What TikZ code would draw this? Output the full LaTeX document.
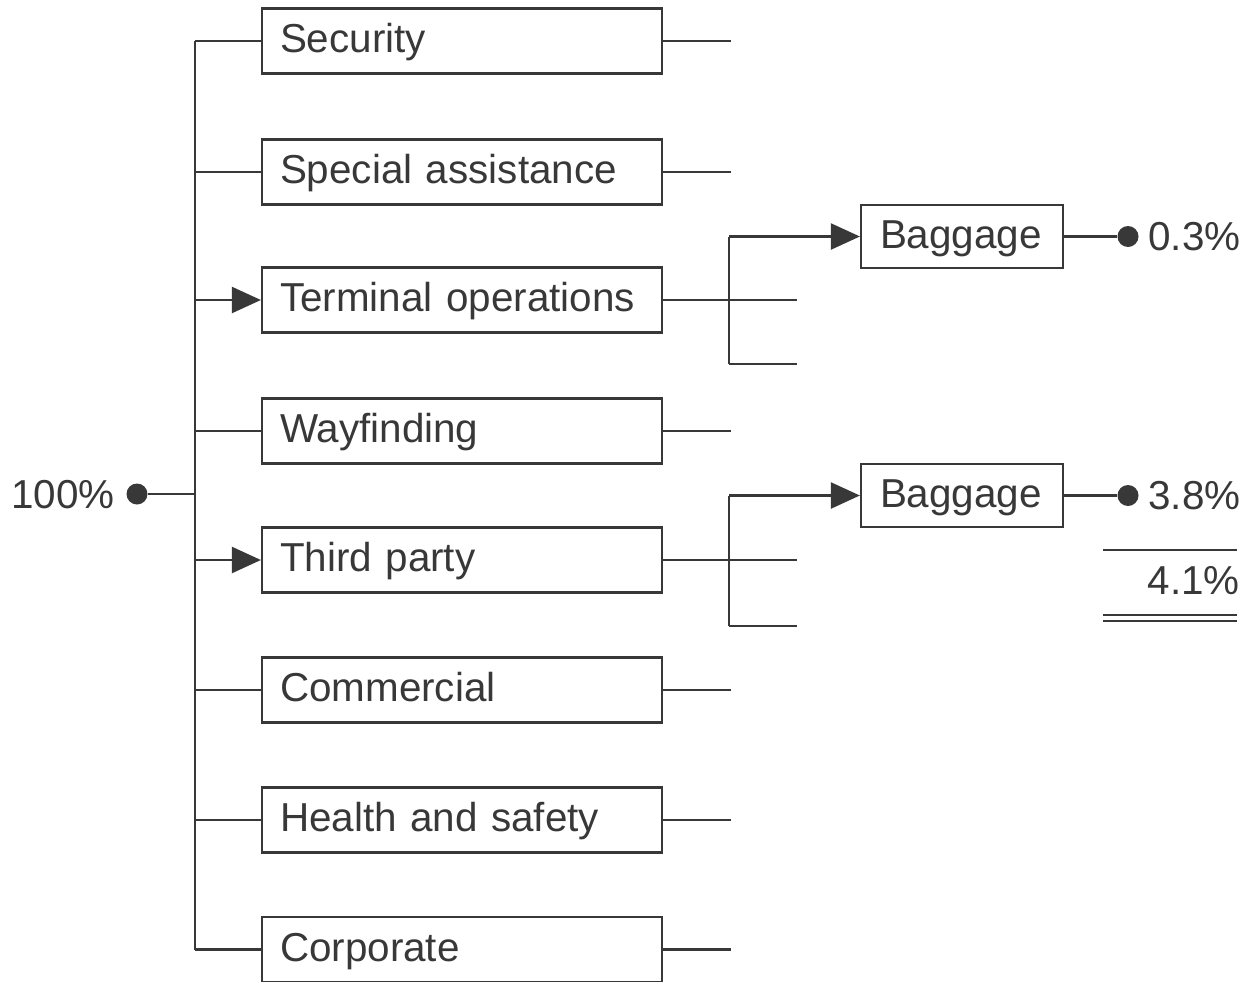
\documentclass[tikz,border=0pt]{standalone}
\usepackage{fontspec}
\setmainfont{Liberation Sans}
\usetikzlibrary{arrows.meta}
\definecolor{ink}{HTML}{383838}
\begin{document}
\begin{tikzpicture}[x=0.02cm,y=-0.02cm,
  every node/.style={text=ink,font=\fontsize{23}{28}\selectfont},
  line/.style={draw=ink,line width=1.3pt},
  catbox/.style={draw=ink,line width=1.3pt,minimum width=8cm,minimum height=1.3cm,
    inner xsep=0.36cm,inner ysep=0pt,text width=7.28cm,align=left,
    text height=0.58cm,text depth=0.12cm},
  bagbox/.style={draw=ink,line width=1.3pt,minimum width=4.04cm,minimum height=1.26cm,
    inner xsep=0.38cm,inner ysep=0pt,text width=3.28cm,align=left,
    text height=0.58cm,text depth=0.12cm},
  dotnode/.style={circle,fill=ink,inner sep=0pt,minimum size=0.42cm},
  arr/.style={-{Triangle[length=0.58cm,width=0.52cm]}}
]
\useasboundingbox (0,0) rectangle (1248,981);
\clip (0,0) rectangle (1248,981);

% category boxes
\node[catbox] (sec) at (462,41) {Security};
\node[catbox] (spa) at (462,172) {Special assistance};
\node[catbox] (ter) at (462,300) {Terminal operations};
\node[catbox] (way) at (462,431) {Wayfinding};
\node[catbox] (thi) at (462,560) {Third party};
\node[catbox] (com) at (462,690) {Commercial};
\node[catbox] (hea) at (462,820) {Health and safety};
\node[catbox] (cor) at (462,949.5) {Corporate};

% root
\node[anchor=base east,inner sep=0pt] (pct) at (115,508) {100\%};
\node[dotnode] (rootdot) at (137,494) {};
\coordinate (spine) at (195,494);
\coordinate (spinetop) at (195,41);
\coordinate (spinebot) at (195,949.5);
\draw[line] (rootdot) -- (spine);
\draw[line] (spinetop) -- (spinebot);

% branches to boxes
\foreach \n in {sec,spa,way,com,hea,cor}{
  \draw[line] (\n.west -| spine) -- (\n.west);
  \draw[line] (\n.east) -- ++(68,0);
}
\draw[line,arr] (ter.west -| spine) -- (ter.west);
\draw[line,arr] (thi.west -| spine) -- (thi.west);

% baggage boxes
\node[bagbox] (bag1) at (962,236.5) {Baggage};
\node[bagbox] (bag2) at (962,495.5) {Baggage};

% sub-branches for terminal operations
\coordinate (t1) at (729,236.5);
\coordinate (t3) at (729,364);
\coordinate (tend) at (797,300);
\coordinate (t3end) at (797,364);
\draw[line] (ter.east) -- (tend);
\draw[line] (t1) -- (t3);
\draw[line,arr] (t1) -- (bag1.west);
\draw[line] (t3) -- (t3end);

% sub-branches for third party
\coordinate (p1) at (729,495.5);
\coordinate (p3) at (729,626);
\coordinate (pend) at (797,560);
\coordinate (p3end) at (797,626);
\draw[line] (thi.east) -- (pend);
\draw[line] (p1) -- (p3);
\draw[line,arr] (p1) -- (bag2.west);
\draw[line] (p3) -- (p3end);

% results
\node[dotnode] (d1) at (1128,236.5) {};
\node[dotnode] (d2) at (1128,495.5) {};
\draw[line] (bag1.east) -- (d1);
\draw[line] (bag2.east) -- (d2);
\node[anchor=base west,inner sep=0pt] (r1) at (1148,250.5) {0.3\%};
\node[anchor=base west,inner sep=0pt] (r2) at (1148,509.5) {3.8\%};
\coordinate (s1) at (1103,550);
\coordinate (s2) at (1237,550);
\draw[line] (s1) -- (s2);
\node[anchor=base east,inner sep=0pt] (tot) at (1240,594) {4.1\%};
\coordinate (u1) at (1103,615);
\coordinate (u2) at (1237,615);
\coordinate (v1) at (1103,621);
\coordinate (v2) at (1237,621);
\draw[line] (u1) -- (u2);
\draw[line] (v1) -- (v2);
\end{tikzpicture}
\end{document}
